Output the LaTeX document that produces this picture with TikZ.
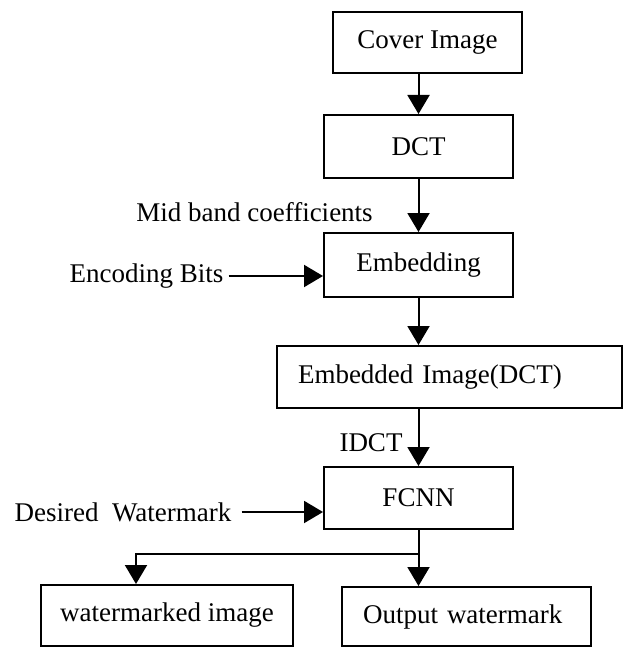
\documentclass[tikz,border=0pt]{standalone}
\usepackage{fontspec}
\setmainfont{Liberation Serif}
\usetikzlibrary{arrows.meta}
\begin{document}
\begin{tikzpicture}[x=1pt,y=-1pt,
  every node/.style={font=\fontsize{27}{31}\selectfont},
  box/.style={draw, line width=2pt, minimum width=189pt, minimum height=62pt, inner sep=0pt},
  lbox/.style={box, align=left, inner xsep=21pt},
  lbl/.style={inner sep=0pt},
  conn/.style={line width=2pt},
  arr/.style={conn, -{Triangle[width=22pt,length=19pt]}}]
\useasboundingbox (0,0) rectangle (625,647);
\node[box, minimum height=61pt] (cover) at (427.5,42.5) {Cover Image};
\node[box, minimum height=63pt] (dct) at (418.5,146.5) {DCT};
\node[box, minimum height=64pt] (emb) at (418.5,265) {Embedding};
\node[lbox, text width=303pt, minimum height=62pt] (embimg) at (449.5,377) {Embedded Image(DCT)};
\node[box] (fcnn) at (418.5,498) {FCNN};
\node[box, minimum width=252pt, minimum height=61pt] (wm) at (167,615.5) {watermarked image};
\node[lbox, text width=207pt, minimum height=59pt] (out) at (466.5,616.5) {Output watermark};

\node[lbl] (mid) at (254.5,212) {Mid band coefficients};
\node[lbl] (enc) at (146.5,276) {Encoding Bits};
\node[lbl] (idct) at (371,443) {IDCT};
\node[lbl] (des) at (123,512) {Desired\ \ Watermark};

\draw[arr] (cover.south -| dct.north) -- (dct.north);
\draw[arr] (dct.south) -- (emb.north);
\draw[arr] ([xshift=5pt]enc.east) -- (enc.east -| emb.west);
\draw[arr] (emb.south) -- (emb.south |- embimg.north);
\draw[arr] (emb.south |- embimg.south) -- (fcnn.north);
\draw[arr] ([xshift=10pt]des.east) -- (des.east -| fcnn.west);
\coordinate (br) at (418.5,554);
\draw[conn] (fcnn.south) -- (br);
\draw[arr] (br) -| ([xshift=-31pt]wm.north);
\draw[arr] (br) -- (br |- out.north);
\end{tikzpicture}
\end{document}
